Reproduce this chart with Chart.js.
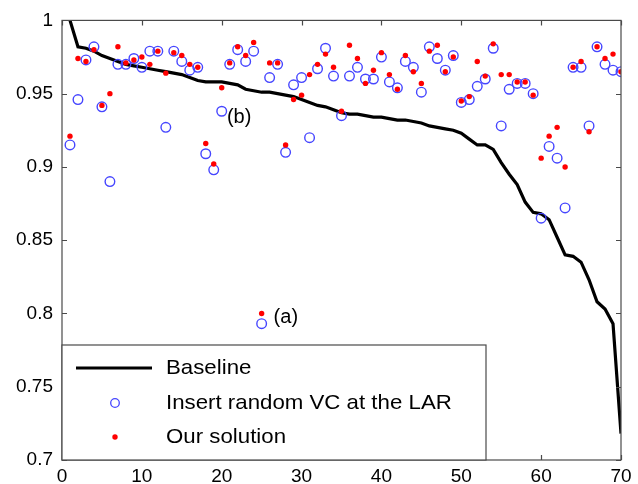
<!DOCTYPE html>
<html>
<head>
<meta charset="utf-8">
<script src="https://cdn.jsdelivr.net/npm/chart.js@4/dist/chart.umd.min.js"></script>
<style>
  body { margin: 0; background: #fff; }
  #wrap { width: 638px; height: 484px; }
</style>
</head>
<body>
<div id="wrap"><canvas id="chart" width="638" height="484"></canvas></div>
<script>
// run index (x axis)
const runs = [1, 2, 3, 4, 5, 6, 7, 8, 9, 10, 11, 12, 13, 14, 15, 16, 17, 18, 19, 20,
    21, 22, 23, 24, 25, 26, 27, 28, 29, 30, 31, 32, 33, 34, 35, 36, 37, 38, 39, 40,
    41, 42, 43, 44, 45, 46, 47, 48, 49, 50, 51, 52, 53, 54, 55, 56, 57, 58, 59, 60,
    61, 62, 63, 64, 65, 66, 67, 68, 69, 70];

// sorted baseline curve
const baseline = [1.000, 0.982, 0.981, 0.979, 0.976, 0.974, 0.972, 0.970, 0.969, 0.968,
    0.967, 0.966, 0.965, 0.964, 0.963, 0.961, 0.959, 0.958, 0.958, 0.958,
    0.957, 0.956, 0.953, 0.952, 0.951, 0.951, 0.950, 0.949, 0.948, 0.946,
    0.944, 0.942, 0.941, 0.939, 0.937, 0.936, 0.936, 0.935, 0.934, 0.934,
    0.933, 0.932, 0.932, 0.931, 0.930, 0.928, 0.927, 0.926, 0.925, 0.923,
    0.919, 0.915, 0.915, 0.912, 0.903, 0.895, 0.888, 0.876, 0.869, 0.868,
    0.864, 0.852, 0.840, 0.839, 0.835, 0.823, 0.808, 0.803, 0.793, 0.718];

// blue circles
const randomVC = [0.915, 0.946, 0.973, 0.982, 0.941, 0.890, 0.970, 0.970, 0.974, 0.968,
    0.979, 0.979, 0.927, 0.979, 0.972, 0.966, 0.968, 0.909, 0.898, 0.938,
    0.970, 0.980, 0.972, 0.979, 0.793, 0.961, 0.970, 0.910, 0.956, 0.961,
    0.920, 0.967, 0.981, 0.962, 0.935, 0.962, 0.968, 0.960, 0.960, 0.975,
    0.958, 0.954, 0.972, 0.968, 0.951, 0.982, 0.974, 0.966, 0.976, 0.944,
    0.946, 0.955, 0.960, 0.981, 0.928, 0.953, 0.957, 0.957, 0.950, 0.865,
    0.914, 0.906, 0.872, 0.968, 0.968, 0.928, 0.982, 0.970, 0.966, 0.965];

// red dots
const ourSolution = [0.921, 0.974, 0.972, 0.980, 0.942, 0.950, 0.982, 0.971, 0.973, 0.975,
    0.970, 0.979, 0.964, 0.978, 0.976, 0.970, 0.968, 0.916, 0.902, 0.954,
    0.971, 0.982, 0.976, 0.985, 0.800, 0.971, 0.971, 0.915, 0.946, 0.949,
    0.963, 0.970, 0.977, 0.968, 0.938, 0.983, 0.974, 0.957, 0.966, 0.978,
    0.963, 0.953, 0.976, 0.965, 0.957, 0.979, 0.983, 0.965, 0.975, 0.945,
    0.948, 0.972, 0.962, 0.984, 0.963, 0.963, 0.958, 0.958, 0.949, 0.906,
    0.921, 0.927, 0.900, 0.968, 0.972, 0.924, 0.982, 0.974, 0.977, 0.965];

const xTicks = [0, 10, 20, 30, 40, 50, 60, 70];
const yTicks = [0.7, 0.75, 0.8, 0.85, 0.9, 0.95, 1];

const seriesNames = ['Baseline', 'Insert random VC at the LAR', 'Our solution'];

// text labels placed in data space
const notes = [
    { text: '(b)', x: 20.65, y: 0.9335 },
    { text: '(a)', x: 26.5, y: 0.7975 }
];

const FONT = '"Liberation Sans", Arial, Helvetica, sans-serif';
const BLUE = '#4646ff';
const RED = '#ff0000';
const FRAME = '#4a4a4a';

function toPoints(ys) {
    return runs.map((x, i) => ({ x: x, y: ys[i] }));
}

// text that is a little wider than the font, as in the scanned figure
function wideText(ctx, txt, x, y, sx) {
    ctx.save();
    ctx.translate(x, y);
    ctx.scale(sx, 1);
    ctx.fillText(txt, 0, 0);
    ctx.restore();
}

// box + inward tick marks, like a matlab axes
const framePlugin = {
    id: 'frame',
    afterDraw(chart) {
        const { ctx, chartArea: a, scales } = chart;
        ctx.save();
        ctx.strokeStyle = FRAME;
        ctx.lineWidth = 1.2;
        ctx.strokeRect(a.left, a.top, a.right - a.left, a.bottom - a.top);
        ctx.beginPath();
        xTicks.forEach(v => {
            const px = Math.round(scales.x.getPixelForValue(v)) + 0.5;
            ctx.moveTo(px, a.bottom); ctx.lineTo(px, a.bottom - 5);
            ctx.moveTo(px, a.top); ctx.lineTo(px, a.top + 5);
        });
        yTicks.forEach(v => {
            const py = Math.round(scales.y.getPixelForValue(v)) + 0.5;
            ctx.moveTo(a.left, py); ctx.lineTo(a.left + 5, py);
            ctx.moveTo(a.right, py); ctx.lineTo(a.right - 5, py);
        });
        ctx.stroke();

        // annotations
        ctx.fillStyle = '#000';
        ctx.font = '20px ' + FONT;
        ctx.textAlign = 'left';
        ctx.textBaseline = 'middle';
        notes.forEach(n => {
            ctx.fillText(n.text, scales.x.getPixelForValue(n.x), scales.y.getPixelForValue(n.y));
        });

        // legend box in lower left
        const lx = a.left, ly = 345, lw = 486 - a.left, lh = a.bottom - ly;
        ctx.fillStyle = '#fff';
        ctx.fillRect(lx, ly, lw, lh);
        ctx.strokeStyle = FRAME;
        ctx.lineWidth = 1.2;
        ctx.strokeRect(lx, ly, lw, lh);

        const rowY = [ly + 23, ly + 58, ly + 92];
        ctx.strokeStyle = '#000';
        ctx.lineWidth = 3;
        ctx.beginPath();
        ctx.moveTo(lx + 14, rowY[0]); ctx.lineTo(lx + 90, rowY[0]);
        ctx.stroke();

        ctx.strokeStyle = BLUE;
        ctx.lineWidth = 1.3;
        ctx.beginPath();
        ctx.arc(lx + 53, rowY[1], 4.3, 0, Math.PI * 2);
        ctx.stroke();

        ctx.fillStyle = RED;
        ctx.beginPath();
        ctx.arc(lx + 53, rowY[2], 2.7, 0, Math.PI * 2);
        ctx.fill();

        ctx.fillStyle = '#000';
        ctx.font = '21px ' + FONT;
        seriesNames.forEach((name, i) => wideText(ctx, name, lx + 104, rowY[i], 1.06));
        ctx.restore();
    }
};

new Chart(document.getElementById('chart'), {
    type: 'scatter',
    data: {
        datasets: [{
            label: seriesNames[0],
            data: toPoints(baseline),
            showLine: true,
            borderColor: '#000',
            borderWidth: 3.2,
            pointRadius: 0,
            tension: 0,
            order: 3
        }, {
            label: seriesNames[1],
            data: toPoints(randomVC),
            pointStyle: 'circle',
            pointRadius: 4.8,
            borderWidth: 1.4,
            borderColor: BLUE,
            backgroundColor: 'rgba(0,0,0,0)',
            order: 2
        }, {
            label: seriesNames[2],
            data: toPoints(ourSolution),
            pointStyle: 'circle',
            pointRadius: 2.7,
            borderWidth: 0,
            backgroundColor: RED,
            order: 1
        }]
    },
    options: {
        responsive: false,
        animation: false,
        layout: { padding: { top: 18, right: 17, left: 0, bottom: 0 } },
        plugins: {
            legend: { display: false },
            tooltip: { enabled: false }
        },
        scales: {
            x: {
                type: 'linear',
                min: 0,
                max: 70,
                afterBuildTicks: scale => { scale.ticks = xTicks.map(v => ({ value: v })); },
                afterFit: scale => { scale.height = 24; },
                grid: { display: false, drawTicks: false },
                border: { display: false },
                ticks: {
                    padding: 5,
                    color: '#000',
                    font: { family: FONT, size: 19 },
                    maxRotation: 0
                }
            },
            y: {
                type: 'linear',
                min: 0.7,
                max: 1,
                afterBuildTicks: scale => { scale.ticks = yTicks.map(v => ({ value: v })); },
                afterFit: scale => { scale.width = 62; },
                grid: { display: false, drawTicks: false },
                border: { display: false },
                ticks: {
                    padding: 9,
                    color: '#000',
                    font: { family: FONT, size: 19 },
                    callback: v => String(Number(v.toFixed(2)))
                }
            }
        }
    },
    plugins: [framePlugin]
});
</script>
</body>
</html>
